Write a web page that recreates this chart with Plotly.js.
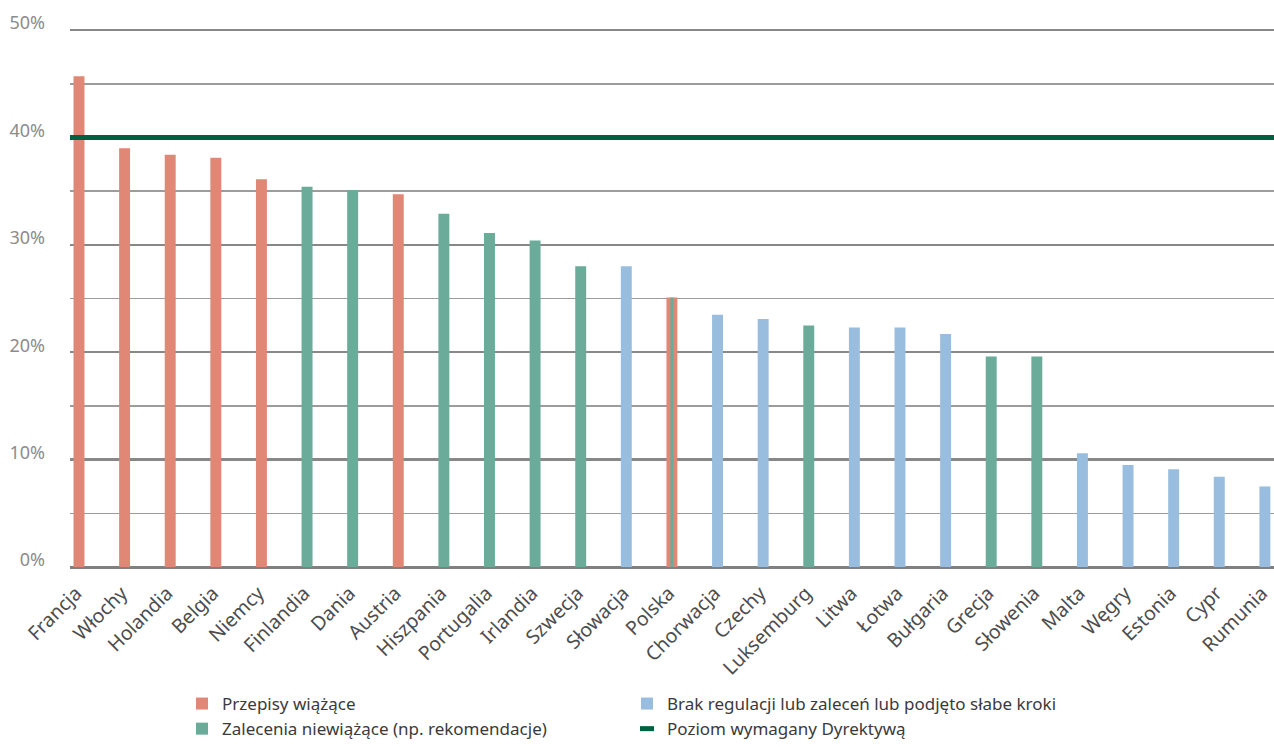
<!DOCTYPE html>
<html>
<head>
<meta charset="utf-8">
<script src="https://cdn.plot.ly/plotly-3.0.1.min.js"></script>
<style>html,body{margin:0;padding:0;background:#fff;}#chart{width:1274px;height:747px;}</style>
</head>
<body>
<div id="chart"></div>
<script>
const categories = ["Francja","Włochy","Holandia","Belgia","Niemcy","Finlandia","Dania","Austria","Hiszpania","Portugalia","Irlandia","Szwecja","Słowacja","Polska","Chorwacja","Czechy","Luksemburg","Litwa","Łotwa","Bułgaria","Grecja","Słowenia","Malta","Węgry","Estonia","Cypr","Rumunia"];
const bindingValues    = [45.7,39.0,38.4,38.1,36.1,null,null,34.7,null,null,null,null,null,25.1,null,null,null,null,null,null,null,null,null,null,null,null,null];
const nonBindingValues = [null,null,null,null,null,35.4,35.1,null,32.9,31.1,30.4,28.0,null,25.1,null,null,22.5,null,null,null,19.6,19.6,null,null,null,null,null];
const noRegValues      = [null,null,null,null,null,null,null,null,null,null,null,null,28.0,null,23.5,23.1,null,22.3,22.3,21.7,null,null,10.6,9.5,9.1,8.4,7.5];
const directiveLevel = 40;
const yTickVals = [0,10,20,30,40,50];
const yTickText = ["0%","10%","20%","30%","40%","50%"];
const seriesNames = ["Przepisy wiążące","Zalecenia niewiążące (np. rekomendacje)","Brak regulacji lub zaleceń lub podjęto słabe kroki","Poziom wymagany Dyrektywą"];

const idx = categories.map((c,i)=>i);
const colRed = "#E08775", colGreen = "#6AAB9A", colBlue = "#98BDDE", colDir = "#00603F";
const bw = 0.24;
const greenWidths = categories.map(c => c === "Polska" ? 0.066 : bw);

const traces = [
  {type:"bar", x:idx, y:bindingValues, width:bw, name:seriesNames[0], marker:{color:colRed}, legendrank:1, hoverinfo:"skip"},
  {type:"bar", x:idx, y:noRegValues, width:bw, name:seriesNames[2], marker:{color:colBlue}, legendrank:2, hoverinfo:"skip"},
  {type:"bar", x:idx, y:nonBindingValues, width:greenWidths, name:seriesNames[1], marker:{color:colGreen}, legendrank:3, hoverinfo:"skip"},
  {type:"scatter", x:[null], y:[null], mode:"markers", name:seriesNames[3], legendrank:4,
   marker:{symbol:"line-ew-open", size:10, color:colDir, line:{color:colDir, width:5}}}
];

const layout = {
  width:1274, height:747,
  margin:{l:70, r:0, t:29, b:180},
  paper_bgcolor:"#fff", plot_bgcolor:"#fff",
  barmode:"overlay",
  font:{family:"Noto Sans, sans-serif"},
  xaxis:{
    range:[-0.197, 26.2],
    tickvals:idx, ticktext:categories,
    tickangle:-45,
    tickfont:{size:19.5, color:"#4d4d4d", family:"Noto Sans, sans-serif"},
    showgrid:false, zeroline:false, showline:false, ticks:"",
    ticklabelstandoff:10, ticklabelshift:-3, ticklabeloverflow:"allow"
  },
  yaxis:{
    range:[0,50.1],
    tickvals:yTickVals, ticktext:yTickText,
    tickfont:{size:18, color:"#8c8c8c", family:"Noto Sans, sans-serif"},
    showgrid:true, gridcolor:"#888888", gridwidth:2.5,
    minor:{dtick:5, tick0:0, showgrid:true, gridcolor:"#9c9c9c", gridwidth:1.5, ticks:""},
    zeroline:true, zerolinecolor:"#808080", zerolinewidth:3,
    showline:false, ticks:"",
    ticklabelstandoff:24, ticklabelshift:-7
  },
  shapes:[{type:"line", xref:"paper", x0:0, x1:1, yref:"y", y0:directiveLevel, y1:directiveLevel,
           line:{color:colDir, width:5}, layer:"above"}],
  showlegend:true,
  legend:{orientation:"h", xref:"container", x:182/1274, xanchor:"left",
          yref:"container", y:-0.009, yanchor:"bottom",
          entrywidth:400, entrywidthmode:"pixels",
          font:{size:17, color:"#3a3a3a", family:"Noto Sans, sans-serif"},
          traceorder:"normal", itemwidth:30, tracegroupgap:0}
};

Plotly.newPlot("chart", traces, layout, {displayModeBar:false, staticPlot:true});
</script>
</body>
</html>
